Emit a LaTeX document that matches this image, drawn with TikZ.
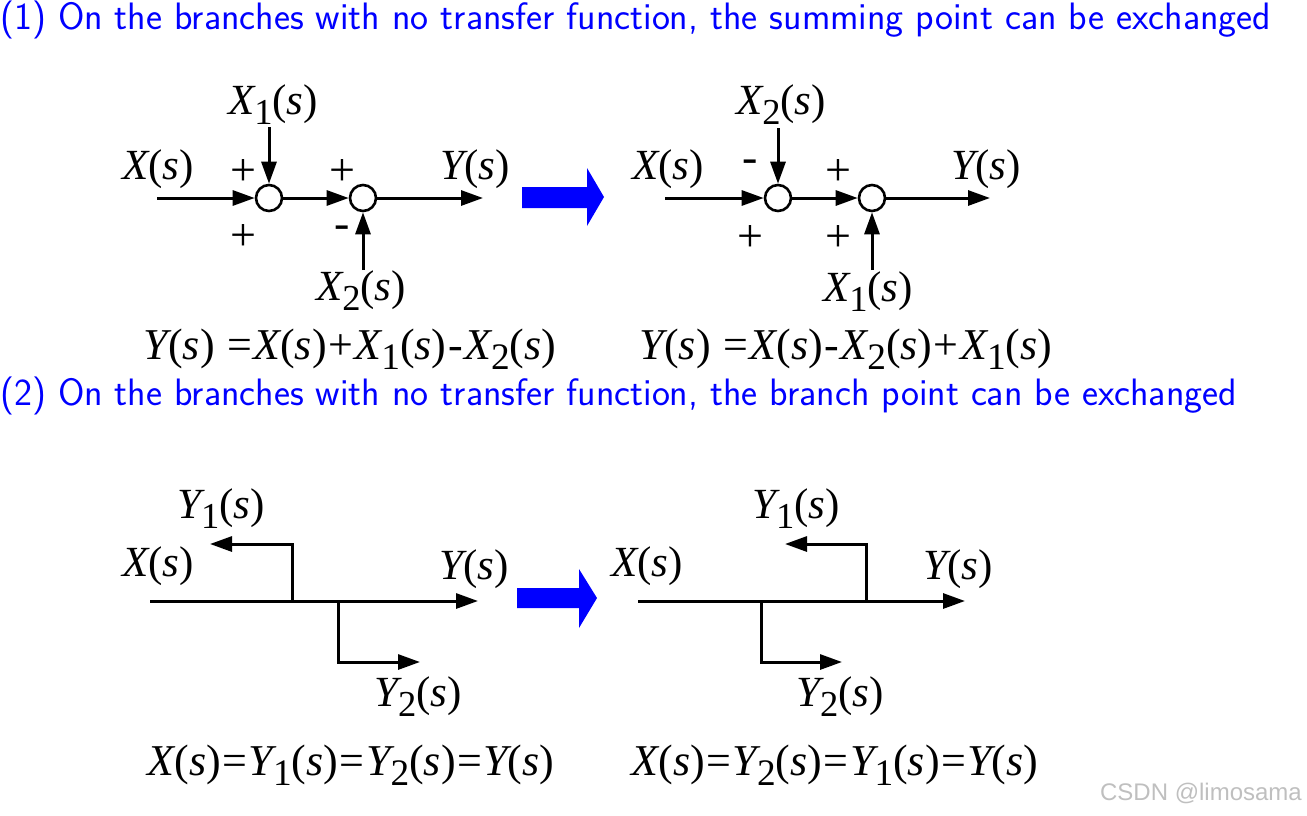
\documentclass[tikz,border=0pt]{standalone}
\usepackage{fontspec}
\usetikzlibrary{arrows.meta}
\newfontfamily\tnr{Liberation Serif}
\newfontfamily\arialf{Liberation Sans}
\newcommand{\sbs}[1]{\raisebox{-0.5ex}{\scalebox{0.85}{#1}}}
\newcommand{\sig}[2]{{\itshape #1}\sbs{#2}({\itshape s})}
\newcommand{\op}[1]{\hspace{1.5pt}#1\hspace{1.5pt}}
\begin{document}
\begin{tikzpicture}[x=1pt,y=-1pt,
  lab/.style={font=\tnr\fontsize{43}{46}\selectfont, inner sep=0pt},
  eqn/.style={font=\tnr\fontsize{44}{46}\selectfont, inner sep=0pt},
  sgn/.style={font=\tnr\fontsize{46}{48}\selectfont, inner sep=0pt},
  hdr/.style={font=\sffamily\fontsize{38.2}{42}\selectfont, text=blue, inner sep=0pt, anchor=west},
  wire/.style={line width=3pt},
  arr/.style={wire, -{Triangle[length=22pt,width=15pt]}},
  sum/.style={circle, draw, line width=2.6pt, minimum size=26pt, inner sep=0pt},
  bigarrow/.style={fill=blue, draw=none}]
\useasboundingbox (0,0) rectangle (1307,815);

% headers
\node[hdr] (h1) at (0,20) {(1) On the branches with no transfer function, the summing point can be exchanged};
\node[hdr] (h2) at (0,396) {(2) On the branches with no transfer function, the branch point can be exchanged};

% ---------- diagram 1 ----------
\coordinate (a1) at (157,198);
\node[sum] (c1) at (269,198) {};
\node[sum] (c2) at (363,198) {};
\coordinate (a2) at (483,198);
\coordinate (t1) at (269,127);
\coordinate (b1) at (363,270);
\draw[arr] (a1) -- (c1);
\draw[arr] (c1) -- (c2);
\draw[arr] (c2) -- (a2);
\draw[arr] (t1) -- (c1);
\draw[arr] (b1) -- (c2);
\node[lab] (l1x) at (158,170) {\sig{X}{}};
\node[lab] (l1x1) at (273,105) {\sig{X}{1}};
\node[lab] (l1y) at (475,170) {\sig{Y}{}};
\node[lab] (l1x2) at (361,291) {\sig{X}{2}};
\node[sgn] (s11) at (243,172) {+};
\node[sgn] (s12) at (243,237) {+};
\node[sgn] (s13) at (342,172) {+};
\node[sgn] (s14) at (342,232) {-};
\node[eqn] (e1) at (350,349) {\sig{Y}{} \op{=}\sig{X}{}\op{+}\sig{X}{1}\op{-}\sig{X}{2}};

% big arrow 1
\fill[bigarrow] (522,187) -- (587,187) -- (587,168) -- (604,197) -- (587,226) -- (587,208) -- (522,208) -- cycle;

% ---------- diagram 2 ----------
\coordinate (d1) at (665,198);
\node[sum] (c3) at (778,198) {};
\node[sum] (c4) at (872,198) {};
\coordinate (d2) at (990,198);
\coordinate (t2) at (778,128);
\coordinate (b2) at (872,270);
\draw[arr] (d1) -- (c3);
\draw[arr] (c3) -- (c4);
\draw[arr] (c4) -- (d2);
\draw[arr] (t2) -- (c3);
\draw[arr] (b2) -- (c4);
\node[lab] (l2x) at (668,170) {\sig{X}{}};
\node[lab] (l2x2) at (781,105) {\sig{X}{2}};
\node[lab] (l2y) at (986,170) {\sig{Y}{}};
\node[lab] (l2x1) at (868,292) {\sig{X}{1}};
\node[sgn] (s21) at (750,166) {-};
\node[sgn] (s22) at (750,238) {+};
\node[sgn] (s23) at (838,172) {+};
\node[sgn] (s24) at (838,238) {+};
\node[eqn] (e2) at (846,349) {\sig{Y}{} \op{=}\sig{X}{}\op{-}\sig{X}{2}\op{+}\sig{X}{1}};

% ---------- diagram 3 ----------
\coordinate (p1) at (150,601);
\coordinate (p2) at (478,601);
\coordinate (k1) at (292,601);
\coordinate (k1u) at (292,544);
\coordinate (k1e) at (210,544);
\coordinate (k2) at (338,601);
\coordinate (k2d) at (338,662);
\coordinate (k2e) at (420,662);
\draw[arr] (p1) -- (p2);
\draw[arr] (k1) -- (k1u) -- (k1e);
\draw[arr] (k2) -- (k2d) -- (k2e);
\node[lab] (l3y1) at (221,509) {\sig{Y}{1}};
\node[lab] (l3x) at (158,567) {\sig{X}{}};
\node[lab] (l3y) at (474,570) {\sig{Y}{}};
\node[lab] (l3y2) at (418,697) {\sig{Y}{2}};
\node[eqn] (e3) at (351,765) {\sig{X}{}\op{=}\sig{Y}{1}\op{=}\sig{Y}{2}\op{=}\sig{Y}{}};

% big arrow 2
\fill[bigarrow] (517,588) -- (579,588) -- (579,569) -- (597,598) -- (579,628) -- (579,608) -- (517,608) -- cycle;

% ---------- diagram 4 ----------
\coordinate (q1) at (638,601);
\coordinate (q2) at (965,601);
\coordinate (m1) at (866,601);
\coordinate (m1u) at (866,544);
\coordinate (m1e) at (785,544);
\coordinate (m2) at (761,601);
\coordinate (m2d) at (761,662);
\coordinate (m2e) at (842,662);
\draw[arr] (q1) -- (q2);
\draw[arr] (m1) -- (m1u) -- (m1e);
\draw[arr] (m2) -- (m2d) -- (m2e);
\node[lab] (l4y1) at (796,509) {\sig{Y}{1}};
\node[lab] (l4x) at (647,567) {\sig{X}{}};
\node[lab] (l4y) at (958,570) {\sig{Y}{}};
\node[lab] (l4y2) at (840,697) {\sig{Y}{2}};
\node[eqn] (e4) at (835,765) {\sig{X}{}\op{=}\sig{Y}{2}\op{=}\sig{Y}{1}\op{=}\sig{Y}{}};

% watermark
\node[font=\arialf\fontsize{24}{26}\selectfont, text=black!25, inner sep=0pt] (wm) at (1201,793) {CSDN @limosama};
\end{tikzpicture}
\end{document}
